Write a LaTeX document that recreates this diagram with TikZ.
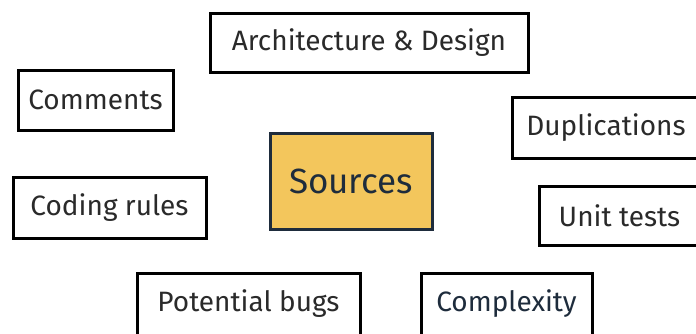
\documentclass[tikz,border=0pt]{standalone}
\usepackage{fontspec}
\setmainfont{Fira Sans}
\definecolor{srcfill}{HTML}{F3C65C}
\definecolor{navy}{HTML}{1E2C3C}
\definecolor{ink}{HTML}{2A2A2A}

\begin{document}
\begin{tikzpicture}[x=1pt,y=-1pt,
  topic/.style={draw=black,line width=3pt,fill=white,text=ink,inner sep=0pt,
    font=\fontsize{28}{32}\selectfont},
  core/.style={topic,draw=navy,fill=srcfill,text=navy,
    font=\fontsize{35}{40}\selectfont}]
  \useasboundingbox (0,0) rectangle (696,333);
  \clip (0,0) rectangle (696,333);
  \node[topic,minimum width=318pt,minimum height=59pt] (arch) at (369,42.5) {Architecture \& Design};
  \node[topic,minimum width=155pt,minimum height=60pt] (comments) at (95.5,100) {Comments};
  \node[topic,minimum width=188pt,minimum height=61pt] (dup) at (606,127.5) {Duplications};
  \node[core,minimum width=162pt,minimum height=96pt] (src) at (351,181) {Sources};
  \node[topic,minimum width=193pt,minimum height=61pt] (rules) at (109.5,207.5) {Coding rules};
  \node[topic,minimum width=161pt,minimum height=59pt] (unit) at (619.5,215.5) {Unit tests};
  \node[topic,minimum width=223pt,minimum height=62pt] (bugs) at (248.5,304) {Potential bugs};
  \node[topic,text=navy,minimum width=171pt,minimum height=62pt] (cplx) at (506.5,304) {Complexity};
\end{tikzpicture}
\end{document}
